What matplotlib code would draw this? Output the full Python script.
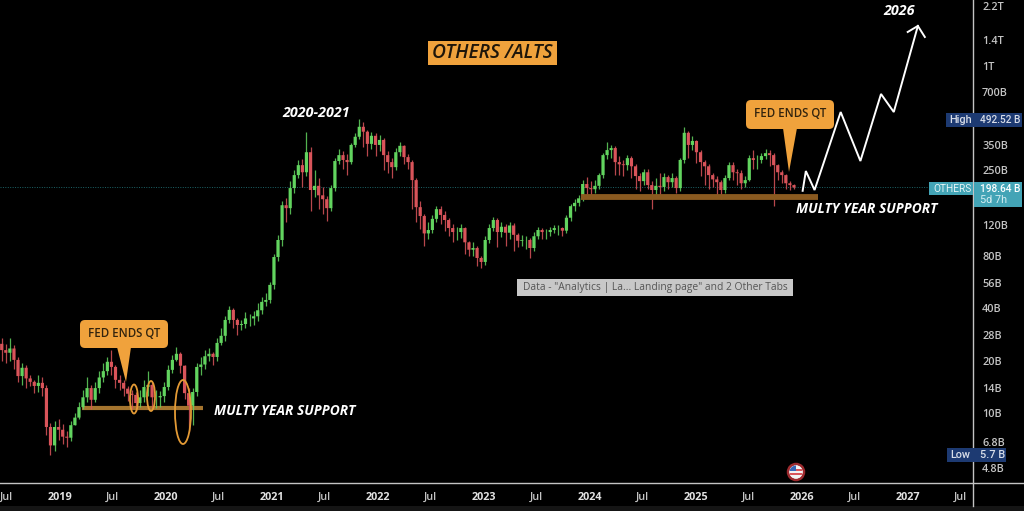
import matplotlib
matplotlib.use("Agg")
import matplotlib.pyplot as plt
import pandas as pd
from matplotlib.lines import Line2D
from matplotlib.patches import Circle, Ellipse, FancyBboxPatch, Polygon, Rectangle
from matplotlib.ticker import FixedLocator, FixedFormatter, NullLocator
from matplotlib.transforms import Affine2D

# Biweekly OTHERS market cap candles, in billions of dollars
closes = [
    23, 22.2, 23.5, 20.2, 16.3, 18.2, 15.8, 15.1, 14.3, 14.9,
    13.9, 8.3, 6.5, 8.3, 8.0, 7.3, 7.2, 8.5, 9.4, 10.8,
    12.3, 13.9, 11.9, 13.9, 16, 17.4, 19.7, 18.4, 15.5, 14.9,
    13.8, 12.9, 12.7, 11.4, 12.3, 14.1, 14.5, 12.3, 12.3, 12.5,
    14.1, 17.7, 20.2, 21.9, 18.7, 13, 11, 13.2, 18.4, 19,
    21.2, 21.9, 21, 25.3, 27.8, 34.3, 39.2, 34.3, 32.1, 32.5,
    35, 35, 36, 39, 43.6, 44.7, 54.6, 79, 99, 157,
    151, 197, 234, 267, 243, 317, 192, 203, 179, 170,
    151, 197, 282, 305, 286, 278, 349, 389, 444, 416,
    354, 394, 349, 373, 305, 278, 260, 317, 345, 297,
    278, 219, 153, 136, 108, 113, 131, 149, 138, 129,
    116, 110, 110, 116, 96, 87, 89, 78, 74, 99,
    116, 129, 110, 118, 109, 120, 106, 98, 99, 99,
    89, 104, 113, 110, 110, 113, 116, 116, 112, 133,
    155, 162, 172, 208, 197, 194, 203, 234, 305, 326,
    335, 278, 270, 267, 293, 263, 231, 216, 243, 205,
    192, 203, 200, 228, 213, 225, 197, 286, 410, 349,
    368, 317, 278, 263, 234, 221, 213, 192, 225, 267,
    243, 240, 210, 219, 293, 286, 286, 301, 313, 305,
    267, 243, 234, 210, 205, 198.64,
]
highs = [
    27, 25, 27, 24.5, 21, 19.5, 19, 16.5, 15.5, 16.5,
    16, 14.5, 8.8, 9, 9.2, 8.6, 7.9, 9, 10, 11.5,
    13.5, 16, 14.5, 15, 17.5, 19.5, 21, 23, 18.8, 16.5,
    15.5, 14.2, 13.6, 13.2, 13.5, 15.5, 17.5, 15, 13.5, 13.4,
    15, 19, 21.5, 24, 22.5, 19, 14, 14, 19.5, 21,
    23, 23.5, 22.5, 27, 31, 36, 41, 40, 35, 34.5,
    38, 37, 38.5, 43, 46.5, 49, 57, 82, 106, 165,
    172, 215, 250, 285, 290, 416, 340, 250, 225, 200,
    178, 205, 295, 330, 320, 310, 360, 410, 492.52, 470,
    425, 415, 410, 400, 385, 320, 295, 335, 365, 350,
    310, 285, 225, 165, 140, 125, 138, 155, 155, 145,
    132, 122, 118, 122, 118, 98, 96, 92, 80, 105,
    122, 135, 132, 125, 122, 126, 124, 108, 106, 104,
    102, 110, 118, 116, 115, 118, 121, 120, 118, 138,
    160, 170, 180, 220, 228, 215, 220, 240, 315, 365,
    350, 345, 300, 285, 305, 300, 270, 240, 255, 255,
    215, 225, 240, 240, 235, 240, 232, 295, 440, 420,
    395, 375, 325, 285, 270, 240, 230, 218, 235, 280,
    280, 255, 250, 230, 305, 325, 305, 315, 330, 325,
    312, 270, 250, 236, 215, 208,
]
lows = [
    20, 19.5, 20, 18, 15, 14.5, 14, 14.2, 13, 13.2,
    12.5, 7.5, 5.7, 6, 7, 6.6, 6.4, 6.9, 8.5, 9.2,
    10.5, 11.5, 10.5, 11.5, 13, 15, 16.5, 16.5, 14, 13.5,
    12.5, 11.7, 10.5, 10.2, 10.8, 11.5, 12.5, 10.5, 10.7, 10.8,
    11.5, 13.5, 17, 20, 17, 12, 7.8, 8.5, 12.5, 16.5,
    18, 20, 19, 20, 24.5, 26, 33, 31, 28, 30,
    31, 31.5, 32, 34, 37, 41, 43, 52, 75, 92,
    125, 140, 185, 225, 200, 230, 145, 175, 150, 140,
    127, 145, 190, 270, 255, 235, 270, 340, 380, 340,
    300, 330, 300, 320, 250, 240, 225, 250, 300, 270,
    255, 150, 125, 115, 92, 100, 108, 125, 122, 112,
    104, 96, 99, 102, 82, 80, 80, 70, 68, 71,
    95, 112, 90, 103, 92, 100, 86, 90, 92, 88,
    78, 85, 100, 100, 100, 104, 108, 106, 105, 108,
    128, 145, 155, 165, 180, 175, 185, 195, 225, 290,
    295, 235, 235, 230, 250, 225, 195, 190, 205, 195,
    150, 180, 180, 190, 195, 200, 185, 190, 275, 295,
    325, 275, 230, 205, 195, 200, 180, 170, 185, 220,
    220, 205, 195, 200, 215, 255, 255, 275, 290, 265,
    155, 220, 210, 195, 192, 195,
]
first_open = 25
first_candle = "2018-06-15"

# Hand-drawn projection into 2027
path_dates = ["2026-01-04", "2026-01-15", "2026-02-14", "2026-05-15", "2026-07-22",
              "2026-10-01", "2026-11-14", "2027-02-05"]
path_values = [190, 247, 192, 540, 282, 686, 540, 1690]
head_dates = ["2027-01-01", "2027-02-05", "2027-03-01"]
head_values = [1560, 1690, 1460]

support_upper = 176
support_upper_span = ["2023-12-01", "2026-02-25"]
support_lower = 10.7
support_lower_span = ["2019-03-20", "2020-05-10"]
last_value = 198.64

price_ticks = [2200, 1400, 1000, 700, 350, 250, 120, 80, 56, 40, 28, 20, 14, 10, 6.8, 4.8]
price_labels = ["2.2T", "1.4T", "1T", "700B", "350B", "250B", "120B", "80B", "56B", "40B",
                "28B", "20B", "14B", "10B", "6.8B", "4.8B"]
time_ticks = ["2018-07-01", "2019-01-01", "2019-07-01", "2020-01-01", "2020-07-01", "2021-01-01",
              "2021-07-01", "2022-01-01", "2022-07-01", "2023-01-01", "2023-07-01", "2024-01-01",
              "2024-07-01", "2025-01-01", "2025-07-01", "2026-01-01", "2026-07-01", "2027-01-01",
              "2027-07-01"]
time_labels = ["Jul", "2019", "Jul", "2020", "Jul", "2021", "Jul", "2022", "Jul", "2023", "Jul",
               "2024", "Jul", "2025", "Jul", "2026", "Jul", "2027", "Jul"]

GREEN = "#62d45f"
RED = "#d9545a"
ORANGE = "#f0a23c"
NAVY = "#1d3a72"
TEAL = "#43a4b6"
AXIS = "#c4c4c4"
FONT = "Open Sans"
TAG_FONT = "Roboto"

fig = plt.figure(figsize=(10.24, 5.11), dpi=100, facecolor="black")
ax = fig.add_axes([0, 28 / 511, 973 / 1024, 483 / 511], facecolor="black")
ax.set_yscale("log")
ax.set_ylim(3.95, 2384)
ax.set_xlim(pd.Timestamp("2018-06-09"), pd.Timestamp("2027-08-14"))
for spine in ax.spines.values():
    spine.set_visible(False)

# Overlays are placed in image-style pixels, origin at the top left
px = Affine2D().scale(1, -1).translate(0, 511)

# Candles: each one opens at the previous close
dates = pd.date_range(first_candle, periods=len(closes), freq="14D")
opens = [first_open] + closes[:-1]
colors = [GREEN if c >= o else RED for o, c in zip(opens, closes)]
ax.vlines(dates, lows, highs, colors=colors, lw=0.9, alpha=0.85, zorder=3)
bodies = ax.bar(dates, [abs(c - o) for o, c in zip(opens, closes)],
                bottom=[min(o, c) for o, c in zip(opens, closes)],
                width=11, color=colors, lw=0, zorder=4)
for body in bodies:
    body.set_snap(False)

ax.axhline(last_value, color="#1d6468", lw=0.7, ls=(0, (1, 1.5)), zorder=1)

ax.hlines(support_upper, *pd.to_datetime(support_upper_span), color="#8a5a20", lw=4.2, zorder=5)
ax.hlines(support_lower, *pd.to_datetime(support_lower_span), color="#a5752f", lw=3, zorder=2)

ax.plot(pd.to_datetime(path_dates), path_values, color="white", lw=1.4, zorder=6, solid_joinstyle="miter")
ax.plot(pd.to_datetime(head_dates), head_values, color="white", lw=1.4, zorder=6, solid_joinstyle="miter")

ax.yaxis.tick_right()
ax.yaxis.set_major_locator(FixedLocator(price_ticks))
ax.yaxis.set_major_formatter(FixedFormatter(price_labels))
ax.yaxis.set_minor_locator(NullLocator())
ax.tick_params(axis="y", length=0, pad=6.5, labelcolor=AXIS, labelsize=7.8)
for lab in ax.get_yticklabels():
    lab.set_family(FONT)
    lab.set_fontweight("semibold")
ax.xaxis.set_major_locator(FixedLocator(matplotlib.dates.date2num(pd.to_datetime(time_ticks))))
ax.xaxis.set_major_formatter(FixedFormatter(time_labels))
ax.xaxis.set_minor_locator(NullLocator())
ax.tick_params(axis="x", length=0, pad=6.5, labelcolor=AXIS, labelsize=7.8)
for lab in ax.get_xticklabels():
    lab.set_family(FONT)
    lab.set_fontweight("bold" if lab.get_text().isdigit() else "semibold")
    lab.set_color("#e2e2e2" if lab.get_text().isdigit() else AXIS)


def add(patch):
    patch.set_transform(px)
    fig.add_artist(patch)
    return patch


def label(x, y, s, **kw):
    kw.setdefault("family", FONT)
    kw.setdefault("va", "center")
    return fig.text(x, y, s, transform=px, **kw)


# Scale borders
fig.add_artist(Line2D([0, 1024], [483, 483], color=AXIS, lw=1, transform=px))
fig.add_artist(Line2D([973, 973], [0, 506], color=AXIS, lw=1, transform=px))
add(Rectangle((0, 506), 1024, 5, fc="#151515", ec="none"))

# Circled reactions at the lower support
for cx, cy, w, h in [(134, 399, 8, 29), (151, 396, 8, 30), (183, 412, 16, 64)]:
    add(Ellipse((cx, cy), w, h, fc="none", ec="#e39a35", lw=1.3, zorder=8))


def callout(x0, y0, x1, y1, tri, text_y):
    add(FancyBboxPatch((x0 + 5, y0 + 5), x1 - x0 - 10, y1 - y0 - 10,
                       boxstyle="round,pad=5,rounding_size=5", fc=ORANGE, ec="none", zorder=8))
    add(Polygon(tri, closed=True, fc=ORANGE, ec="none", zorder=8))
    label((x0 + x1) / 2, text_y, "FED ENDS QT", color="#33240e", size=8.3, weight="semibold",
          ha="center", zorder=9)


callout(746, 100, 834, 129, [(783, 128), (797, 128), (789, 172)], 113.5)
callout(80, 320, 168, 348, [(117, 347), (131, 347), (126, 382)], 333)

# Title tag
add(Rectangle((428, 41), 129, 24, fc=ORANGE, ec="none", zorder=8))
label(492.5, 53, "OTHERS /ALTS", color="#1f160a", size=13.9, style="italic", weight="semibold",
      ha="center", zorder=9)

# Bold italic chart notes
note = dict(color="white", weight="bold", style="italic", zorder=9)
label(316.5, 113, "2020-2021", size=10.3, ha="center", **note)
label(899.5, 11, "2026", size=10.3, ha="center", **note)
label(284.5, 411, "MULTY YEAR SUPPORT", size=9.9, ha="center", **note)
label(866.5, 209, "MULTY YEAR SUPPORT", size=9.9, ha="center", **note)

# Tooltip
add(Rectangle((517, 279), 276, 17, fc="#c8c8c8", ec="none", zorder=8))
label(655, 287.5, 'Data - "Analytics | La... Landing page" and 2 Other Tabs', color="#555555",
      size=7.4, ha="center", zorder=9)

# Price scale tags
tag = dict(family=TAG_FONT, zorder=9)
add(Rectangle((946, 113), 76, 14, fc=NAVY, ec="none", zorder=8))
label(949, 120, "High", color="#d8dde8", size=7.8, weight="medium", **tag)
label(980, 120, "492.52 B", color="#d8dde8", size=7.3, weight="medium", **tag)
add(Rectangle((947, 448), 59, 14, fc=NAVY, ec="none", zorder=8))
label(950, 455, "Low", color="#d8dde8", size=7.8, weight="medium", **tag)
label(980, 455, "5.7 B", color="#d8dde8", size=7.8, weight="medium", **tag)
add(Rectangle((929, 182), 44, 13, fc=TEAL, ec="none", zorder=8))
add(Rectangle((973.6, 182), 48.4, 25, fc=TEAL, ec="none", zorder=8))
label(933, 188.5, "OTHERS", color="#e6f5f7", size=7.3, **tag)
label(980, 188.5, "198.64 B", color="white", size=7.3, weight="medium", **tag)
label(980, 200, "5d 7h", color="#d5eef2", size=7.8, **tag)

# Event marker with a small flag
cx, cy = 796, 472
ring = add(Circle((cx, cy), 8, fc="#f2f2f2", ec="#9c2a2e", lw=1.8, zorder=8))
clip = Circle((cx, cy), 6.5, transform=px)
for x, y, w, h, c in [(cx - 7, cy - 7, 14, 14, "#f2f2f2"), (cx - 7, cy - 3, 14, 2, "#d9545a"),
                      (cx - 7, cy + 1, 14, 2, "#d9545a"), (cx - 7, cy - 7, 7, 6, "#3566b8")]:
    r = add(Rectangle((x, y), w, h, fc=c, ec="none", zorder=9))
    r.set_clip_path(clip)

fig.savefig("out.png", dpi=100, facecolor="black")
